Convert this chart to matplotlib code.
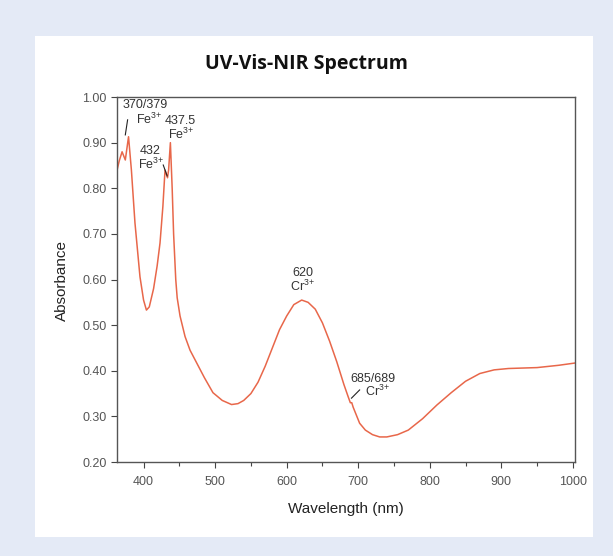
import matplotlib
matplotlib.use("Agg")
import matplotlib.pyplot as plt
from matplotlib.patches import Rectangle
from matplotlib.ticker import MultipleLocator

plt.rcParams["font.family"] = ["Liberation Sans", "DejaVu Sans"]
plt.rcParams["mathtext.default"] = "regular"

# spectrum
wavelength = [363, 366, 370, 374.5, 379, 383, 388, 395, 400, 404, 408, 414, 419, 423,
              427, 430, 433.5, 435, 437.5, 440, 442, 445, 447, 451, 458, 465, 475, 485,
              497, 510, 523, 532, 540, 550, 560, 570, 580, 590, 600, 610, 621, 630, 640,
              650, 660, 670, 680, 686, 689, 691, 693, 702, 710, 720, 730, 740, 755, 770,
              790, 810, 830, 850, 870, 890, 910, 950, 980, 1003]
absorbance = [0.84, 0.86, 0.88, 0.862, 0.913, 0.84, 0.724, 0.606, 0.555, 0.533, 0.54,
              0.58, 0.63, 0.68, 0.76, 0.84, 0.823, 0.84, 0.90, 0.80, 0.70, 0.60, 0.56,
              0.52, 0.475, 0.445, 0.415, 0.385, 0.352, 0.335, 0.326, 0.328, 0.335, 0.35,
              0.375, 0.41, 0.45, 0.49, 0.52, 0.545, 0.555, 0.55, 0.535, 0.505, 0.465,
              0.42, 0.37, 0.343, 0.33, 0.33, 0.32, 0.285, 0.27, 0.26, 0.255, 0.255, 0.26,
              0.27, 0.295, 0.325, 0.352, 0.377, 0.394, 0.402, 0.405, 0.407, 0.412, 0.417]

x_ticks = [400, 500, 600, 700, 800, 900, 1000]
y_ticks = [0.20, 0.30, 0.40, 0.50, 0.60, 0.70, 0.80, 0.90, 1.00]

fig = plt.figure(figsize=(6.13, 5.56), dpi=100)
fig.patch.set_facecolor("#e4eaf6")
fig.patches.append(Rectangle((0.057, 0.034), 0.910, 0.901, transform=fig.transFigure,
                             facecolor="white", edgecolor="none", zorder=-10))

ax = fig.add_axes([0.191, 0.169, 0.747, 0.6565])
ax.set_zorder(1)
ax.plot(wavelength, absorbance, color="#e8674a", lw=1.1)

ax.set_xlim(363, 1003)
ax.set_ylim(0.20, 1.00)
ax.set_xticks(x_ticks)
ax.xaxis.set_minor_locator(MultipleLocator(50))
ax.set_yticks(y_ticks)
ax.set_yticklabels([f"{v:.2f}" for v in y_ticks])
ax.tick_params(axis="both", which="both", direction="out", colors="#444",
               labelcolor="#555", labelsize=9, length=4, width=0.8)
ax.tick_params(axis="x", which="both", pad=6)
ax.tick_params(axis="x", which="minor", length=3)
for s in ax.spines.values():
    s.set_color("#555")
    s.set_linewidth(1.0)

ax.set_xlabel("Wavelength (nm)", fontsize=11, color="#222", labelpad=10)
fig.text(0.101, 0.496, "Absorbance", rotation=90, ha="center", va="center",
         fontsize=11, color="#222")
fig.text(0.5, 0.885, "UV-Vis-NIR Spectrum", ha="center", va="center",
         fontsize=14, fontweight="bold", family=["Open Sans", "DejaVu Sans"], color="#111")

# peak labels
tc = "#333"
fs = 9
fe = "Fe$^{3{+}}$"
cr = "Cr$^{3{+}}$"
ax.text(370.3, 0.983, "370/379", fontsize=fs, color=tc, va="center")
ax.text(390, 0.952, fe, fontsize=fs, color=tc, va="center")
ax.plot([374.5, 377.7], [0.917, 0.95], color="#222", lw=0.8)
ax.text(394, 0.882, "432", fontsize=fs, color=tc, va="center")
ax.text(392.6, 0.852, fe, fontsize=fs, color=tc, va="center")
ax.plot([427.5, 433], [0.851, 0.827], color="#222", lw=0.8)
ax.text(430, 0.947, "437.5", fontsize=fs, color=tc, va="center")
ax.text(434.5, 0.919, fe, fontsize=fs, color=tc, va="center")
ax.text(622.7, 0.614, "620", fontsize=fs, color=tc, va="center", ha="center")
ax.text(622.7, 0.586, cr, fontsize=fs, color=tc, va="center", ha="center")
ax.text(689, 0.382, "685/689", fontsize=fs, color=tc, va="center")
ax.text(709, 0.354, cr, fontsize=fs, color=tc, va="center")
ax.plot([690.6, 702], [0.34, 0.358], color="#222", lw=0.8)

fig.savefig("out.png", dpi=100, facecolor=fig.get_facecolor())
